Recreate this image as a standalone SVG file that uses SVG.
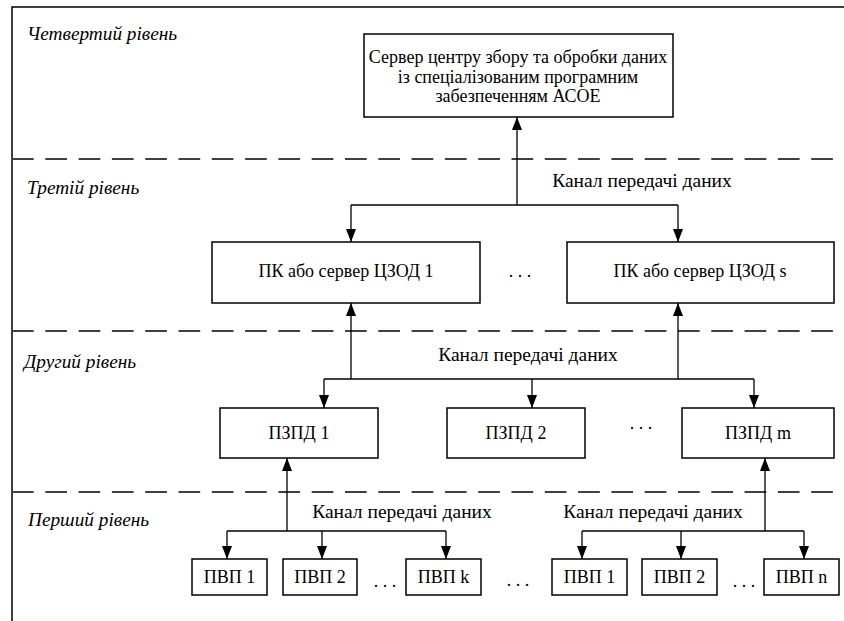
<svg xmlns="http://www.w3.org/2000/svg" width="844" height="621" viewBox="0 0 844 621">
<defs>
<marker id="ah" markerUnits="userSpaceOnUse" markerWidth="13" markerHeight="10" refX="13" refY="5" orient="auto">
<path d="M0,0 L13,5 L0,10 z" fill="#000"/>
</marker>
<style>
.frame{stroke:#000;stroke-width:1.5;fill:none}
.dash{stroke:#404040;stroke-width:2;stroke-dasharray:21.7 11.6;fill:none}
.box{fill:#fff;stroke:#000;stroke-width:1.5}
.t{font-size:18px;fill:#000;text-anchor:middle}
.lb{font-size:19.5px;fill:#000;text-anchor:middle}
.lvl{font-size:19.3px;font-style:italic;fill:#000}
.c{stroke:#000;stroke-width:1.3;fill:none}
.a{stroke:#000;stroke-width:1.3;fill:none;marker-end:url(#ah)}
</style>
</defs>
<rect width="844" height="621" fill="#fff"/>
<g id="frame">
<path class="frame" d="M12,621 V7 H844"/>
<path class="dash" d="M12,159 H844"/>
<path class="dash" d="M12,331 H844"/>
<path class="dash" d="M12,492 H844"/>
</g>
<g id="levels" font-family="'Liberation Serif', 'Times New Roman', 'DejaVu Serif', serif">
<text class="lvl" x="27" y="40">Четвертий рівень</text>
<text class="lvl" x="27" y="194">Третій рівень</text>
<text class="lvl" x="24" y="368">Другий рівень</text>
<text class="lvl" x="28" y="526">Перший рівень</text>
</g>
<g id="connectors" font-family="'Liberation Serif', 'Times New Roman', 'DejaVu Serif', serif">
<path class="a" d="M517,205 V117"/>
<path class="c" d="M351,205 H678"/>
<path class="a" d="M351,205 V242"/>
<path class="a" d="M678,205 V242"/>
<path class="a" d="M351,379 V303"/>
<path class="a" d="M678,379 V303"/>
<path class="c" d="M324,379 H754"/>
<path class="a" d="M324,379 V408"/>
<path class="a" d="M532,379 V408"/>
<path class="a" d="M754,379 V408"/>
<path class="a" d="M287,531 V458"/>
<path class="c" d="M227,531 H446"/>
<path class="a" d="M227,531 V559"/>
<path class="a" d="M322,531 V559"/>
<path class="a" d="M446,531 V559"/>
<path class="a" d="M765,531 V458"/>
<path class="c" d="M582,531 H804"/>
<path class="a" d="M582,531 V559"/>
<path class="a" d="M681,531 V559"/>
<path class="a" d="M804,531 V559"/>
<text class="lb" x="642" y="187">Канал передачі даних</text>
<text class="lb" x="528" y="361">Канал передачі даних</text>
<text class="lb" x="402" y="518">Канал передачі даних</text>
<text class="lb" x="653" y="518">Канал передачі даних</text>
</g>
<g id="nodes" font-family="'Liberation Serif', 'Times New Roman', 'DejaVu Serif', serif">
<g id="server">
<rect class="box" x="364" y="34" width="309" height="83"/>
<text class="t" x="518" y="63">Сервер центру збору та обробки даних</text>
<text class="t" x="518" y="83">із спеціалізованим програмним</text>
<text class="t" x="518" y="102">забезпеченням АСОЕ</text>
</g>
<g id="pk1">
<rect class="box" x="212" y="242" width="268" height="61"/>
<text class="t" x="346" y="277">ПК або сервер ЦЗОД 1</text>
</g>
<g id="pk-dots"><text class="t" x="520" y="277">. . .</text></g>
<g id="pks">
<rect class="box" x="567" y="242" width="267" height="61"/>
<text class="t" x="700" y="277">ПК або сервер ЦЗОД s</text>
</g>
<g id="pzpd1">
<rect class="box" x="220" y="408" width="158" height="50"/>
<text class="t" x="299" y="439">ПЗПД 1</text>
</g>
<g id="pzpd2">
<rect class="box" x="447" y="408" width="138" height="50"/>
<text class="t" x="516" y="439">ПЗПД 2</text>
</g>
<g id="pzpd-dots"><text class="t" x="641" y="429">. . .</text></g>
<g id="pzpdm">
<rect class="box" x="682" y="408" width="152" height="50"/>
<text class="t" x="758" y="439">ПЗПД m</text>
</g>
<g id="pvp1a">
<rect class="box" x="192" y="559" width="75" height="36"/>
<text class="t" x="229.5" y="583">ПВП 1</text>
</g>
<g id="pvp2a">
<rect class="box" x="283" y="559" width="74" height="36"/>
<text class="t" x="320" y="583">ПВП 2</text>
</g>
<g id="pvp-dots-a"><text class="t" x="385" y="587">. . .</text></g>
<g id="pvpk">
<rect class="box" x="406" y="559" width="75" height="36"/>
<text class="t" x="443.5" y="583">ПВП k</text>
</g>
<g id="group-dots"><text class="t" x="518" y="586">. . .</text></g>
<g id="pvp1b">
<rect class="box" x="552" y="559" width="75" height="36"/>
<text class="t" x="589.5" y="583">ПВП 1</text>
</g>
<g id="pvp2b">
<rect class="box" x="642" y="559" width="75" height="36"/>
<text class="t" x="679.5" y="583">ПВП 2</text>
</g>
<g id="pvp-dots-b"><text class="t" x="744" y="587">. . .</text></g>
<g id="pvpn">
<rect class="box" x="764" y="559" width="75" height="36"/>
<text class="t" x="801.5" y="583">ПВП n</text>
</g>
</g>
</svg>
